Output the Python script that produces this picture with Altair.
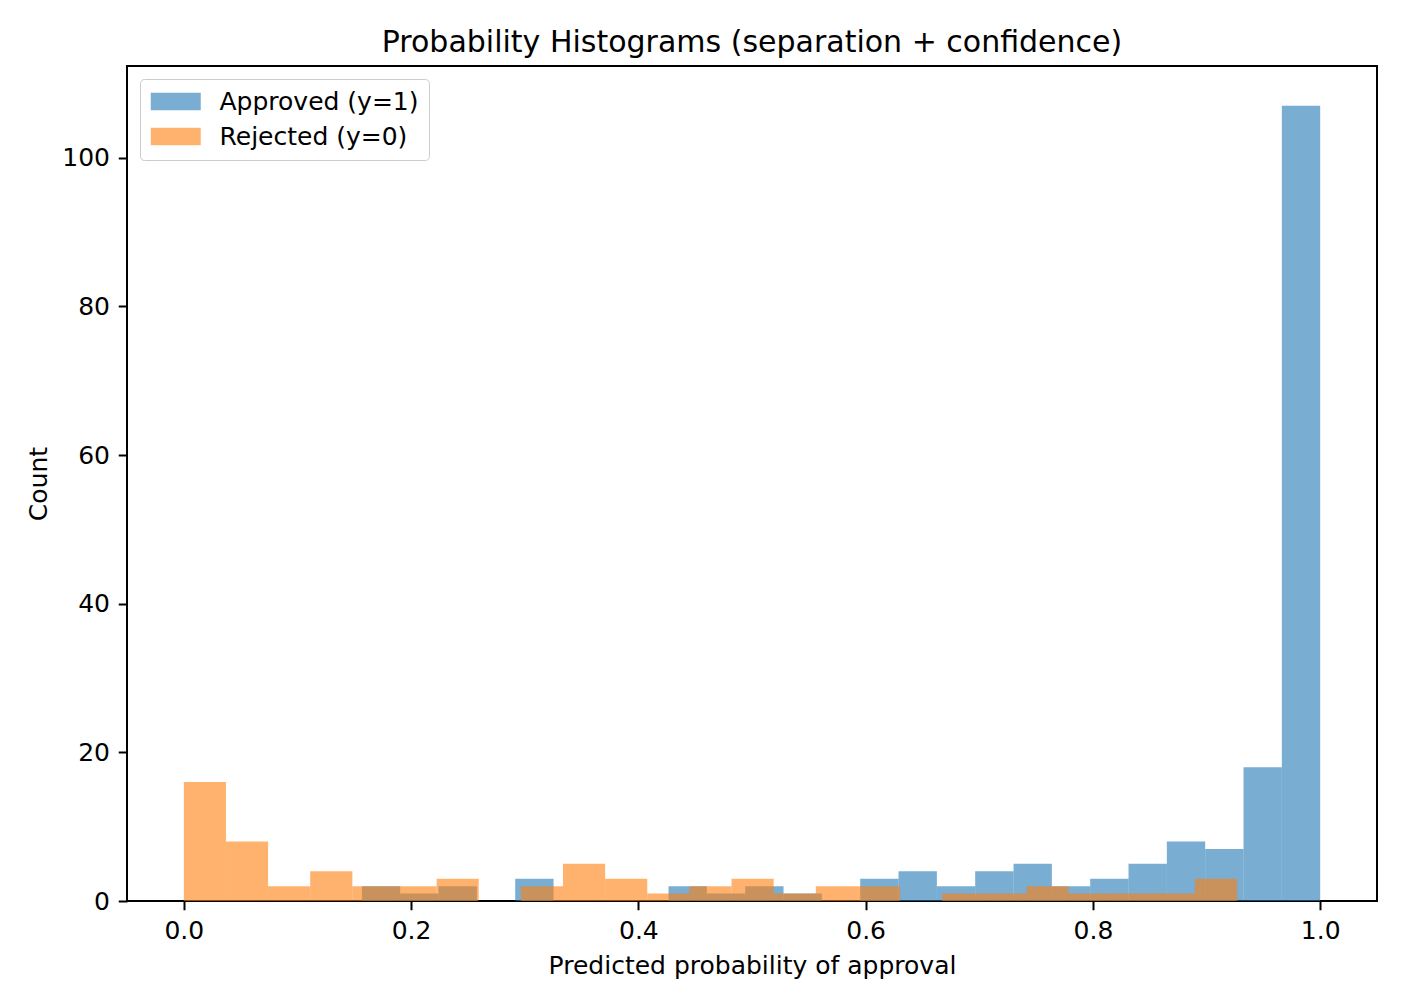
import altair as alt
import numpy as np
import pandas as pd

# Histogram counts per bin (25 equal-width bins per class)
approved_counts = [2, 1, 2, 0, 3, 0, 0, 0, 2, 1, 2, 1, 0, 3, 4, 2, 4, 5, 2, 3, 5, 8, 7, 18, 107]
rejected_counts = [16, 8, 2, 4, 2, 2, 3, 0, 2, 5, 3, 1, 2, 3, 1, 2, 2, 0, 1, 1, 2, 1, 1, 1, 3]

# Range of predicted probabilities covered by each class's bins
approved_range = (0.1567, 1.0)
rejected_range = (0.0, 0.9269)

series_names = ["Approved (y=1)", "Rejected (y=0)"]
series_colors = ["#1f77b4", "#ff7f0e"]

x_ticks = [0.0, 0.2, 0.4, 0.6, 0.8, 1.0]
y_ticks = [0, 20, 40, 60, 80, 100]

rows = []
for name, counts, (lo, hi) in [
    (series_names[0], approved_counts, approved_range),
    (series_names[1], rejected_counts, rejected_range),
]:
    edges = np.linspace(lo, hi, len(counts) + 1)
    for i, c in enumerate(counts):
        if c > 0:
            rows.append({"series": name, "start": edges[i], "end": edges[i + 1],
                         "count": c, "base": 0})
df = pd.DataFrame(rows)

FONT = "DejaVu Sans"
FS = 25
y_max = max(approved_counts) * 1.05

# Legend swatch: a wide patch anchored at its left edge
swatch = "M-1,-1L4.714,-1L4.714,1L-1,1Z"

bars = alt.Chart(df).mark_rect(opacity=0.6).encode(
    x=alt.X("start:Q",
            scale=alt.Scale(domain=[-0.05, 1.05], nice=False, zero=False),
            axis=alt.Axis(values=x_ticks, format=".1f",
                          title="Predicted probability of approval")),
    x2="end:Q",
    y=alt.Y("count:Q",
            scale=alt.Scale(domain=[0, y_max], nice=False),
            axis=alt.Axis(values=y_ticks, title="Count")),
    y2="base:Q",
    color=alt.Color("series:N",
                    scale=alt.Scale(domain=series_names, range=series_colors),
                    legend=alt.Legend(
                        title=None, orient="none", legendX=13, legendY=13,
                        symbolType=swatch, symbolOffset=-3,
                        symbolSize=306.25, symbolOpacity=0.6, symbolStrokeWidth=0,
                        labelFont=FONT, labelFontSize=FS, labelColor="black",
                        labelOffset=47.5, labelLimit=0, rowPadding=9, padding=10,
                        fillColor="rgba(255,255,255,0.8)", strokeColor="#cccccc",
                        cornerRadius=4,
                    )),
)

chart = bars.properties(
    width=1250,
    height=835,
    title="Probability Histograms (separation + confidence)",
    autosize=alt.AutoSizeParams(type="none"),
    padding={"left": 127, "top": 66, "right": 27, "bottom": 106},
).configure(
    background="white",
).configure_view(
    stroke="black", strokeWidth=2,
).configure_axis(
    grid=False, domain=False,
    labelFont=FONT, labelFontSize=FS, labelColor="black", labelPadding=8.75,
    tickColor="black", tickWidth=2, tickSize=8.75,
    titleFont=FONT, titleFontSize=FS, titleFontWeight="normal",
    titleColor="black", titlePadding=10,
).configure_title(
    font=FONT, fontSize=30, fontWeight="normal", color="black",
    anchor="middle", offset=8,
)

chart.save("out.html", embed_options={"renderer": "svg", "actions": False})
